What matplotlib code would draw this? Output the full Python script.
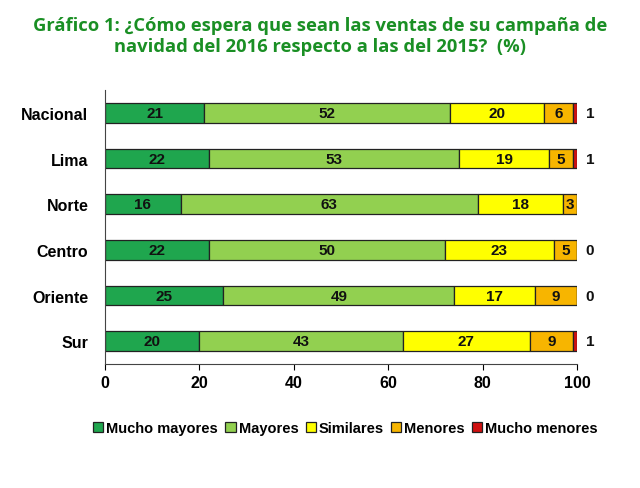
import numpy as np
import matplotlib.pyplot as plt

regiones = ["Nacional", "Lima", "Norte", "Centro", "Oriente", "Sur"]
series = ["Mucho mayores", "Mayores", "Similares", "Menores", "Mucho menores"]
mucho_mayores = [21, 22, 16, 22, 25, 20]
mayores = [52, 53, 63, 50, 49, 43]
similares = [20, 19, 18, 23, 17, 27]
menores = [6, 5, 3, 5, 9, 9]
mucho_menores = [1, 1, 0, 0, 0, 1]
etiqueta_menores = ["1", "1", "", "0", "0", "1"]

colores = ["#1fa64e", "#92d050", "#ffff00", "#f7b500", "#d01010"]
valores = [mucho_mayores, mayores, similares, menores, mucho_menores]

fig = plt.figure(figsize=(6.4, 4.89), dpi=100)
ax = fig.add_axes([0.164, 0.2536, 0.738, 0.560])

y = np.arange(len(regiones))
left = np.zeros(len(regiones))
for k, (serie, vals, col) in enumerate(zip(series, valores, colores)):
    vals = np.array(vals, dtype=float)
    bars = ax.barh(y, vals, left=left, height=0.43, color=col,
                   edgecolor="#222222", linewidth=0.9, label=serie)
    if k < 4:
        for b, v in zip(bars, vals):
            if v > 0:
                ax.text(b.get_x() + b.get_width() / 2, b.get_y() + b.get_height() / 2,
                        "%d" % v, ha="center", va="center", fontsize=11,
                        fontweight="bold", family="Liberation Sans", color="#111111")
    left += vals

for yi, t in zip(y, etiqueta_menores):
    ax.text(101.8, yi, t, ha="left", va="center", fontsize=11,
            fontweight="bold", family="Liberation Sans", color="#111111")

ax.set_xlim(0, 100)
ax.set_ylim(len(regiones) - 0.5, -0.5)
ax.set_yticks(y)
ax.set_yticklabels(regiones)
ax.set_xticks(range(0, 101, 20))
for lbl in ax.get_xticklabels() + ax.get_yticklabels():
    lbl.set_fontfamily("Liberation Sans")
    lbl.set_fontweight("bold")
    lbl.set_fontsize(11.5)
ax.tick_params(axis="y", length=0, pad=12)
ax.tick_params(axis="x", length=4, direction="out", pad=4)
ax.spines["top"].set_visible(False)
ax.spines["right"].set_visible(False)
ax.spines["left"].set_color("#444444")
ax.spines["bottom"].set_color("#444444")

leg = fig.legend(loc="center", bbox_to_anchor=(0.54, 0.122), ncol=5, frameon=False,
                 prop={"family": "Liberation Sans", "weight": "bold", "size": 10.5},
                 handlelength=0.7, handleheight=0.7, handletextpad=0.2,
                 columnspacing=0.5)

fig.text(0.5, 0.966, "Gráfico 1: ¿Cómo espera que sean las ventas de su campaña de\n"
         "navidad del 2016 respecto a las del 2015?  (%)",
         ha="center", va="top", fontsize=13.2, fontweight="bold",
         family="Open Sans", color="#1a8f24", linespacing=1.22)

fig.savefig("out.png", dpi=100)
